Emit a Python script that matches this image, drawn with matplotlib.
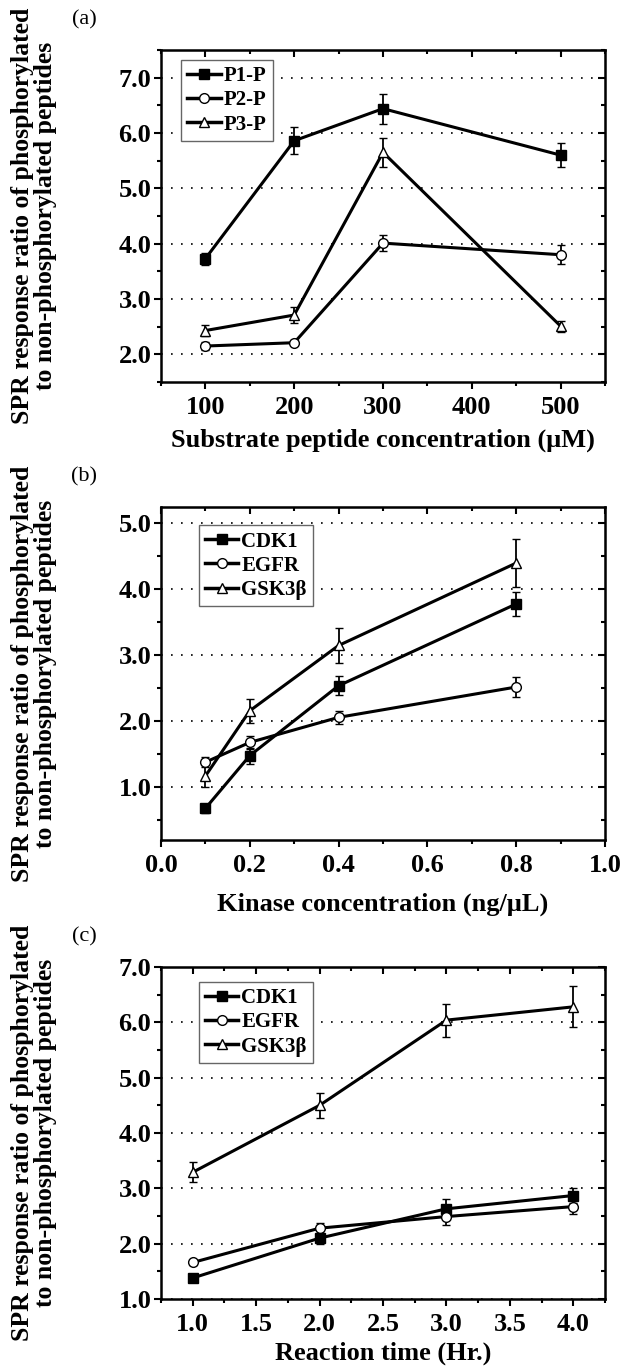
import numpy as np
import matplotlib
matplotlib.use("Agg")
from matplotlib import pyplot as plt
from matplotlib.lines import Line2D
from matplotlib.ticker import MultipleLocator, FormatStrFormatter

plt.rcParams['font.family'] = ['Liberation Serif', 'DejaVu Serif']
plt.rcParams['font.weight'] = 'bold'

# panel (a): substrate peptide concentration
conc_a = [100, 200, 300, 500]
p1 = [3.73, 5.86, 6.44, 5.60]
p1_err = [0.11, 0.24, 0.27, 0.22]
p2 = [2.15, 2.21, 4.01, 3.80]
p2_err = [0.07, 0.05, 0.14, 0.17]
p3 = [2.43, 2.71, 5.65, 2.51]
p3_err = [0.10, 0.15, 0.26, 0.10]
names_a = ['P1-P', 'P2-P', 'P3-P']

# panel (b): kinase concentration
conc_b = [0.1, 0.2, 0.4, 0.8]
cdk1_b = [0.68, 1.48, 2.54, 3.78]
cdk1_b_err = [0.07, 0.12, 0.14, 0.18]
egfr_b = [1.38, 1.68, 2.06, 2.52]
egfr_b_err = [0.08, 0.10, 0.10, 0.15]
gsk_b = [1.17, 2.16, 3.15, 4.40]
gsk_b_err = [0.17, 0.18, 0.27, 0.36]

# panel (c): reaction time
time_c = [1.0, 2.0, 3.0, 4.0]
cdk1_c = [1.38, 2.10, 2.63, 2.87]
cdk1_c_err = [0.07, 0.10, 0.18, 0.14]
egfr_c = [1.66, 2.28, 2.49, 2.67]
egfr_c_err = [0.05, 0.10, 0.15, 0.13]
gsk_c = [3.29, 4.50, 6.04, 6.28]
gsk_c_err = [0.18, 0.22, 0.30, 0.37]
names_k = ['CDK1', 'EGFR', 'GSK3β']

W, H = 624, 1366
fig = plt.figure(figsize=(W / 100, H / 100), dpi=100)

def px_axes(left, top, right, bottom):
    return fig.add_axes([left / W, 1 - bottom / H, (right - left) / W, (bottom - top) / H])

styles = [dict(marker='s', mfc='k', ms=6.5),
          dict(marker='o', mfc='white', ms=7),
          dict(marker='^', mfc='white', ms=7.5)]

def draw(ax, x, ys, errs):
    for y, e, st in zip(ys, errs, styles):
        ax.errorbar(x, y, yerr=e, color='k', lw=2.2, mec='k', mew=1,
                    capsize=3, elinewidth=1.3, capthick=1.3, zorder=3, **st)

def style(ax, xlim, ylim, xmaj, xmin, ymaj, ymin, xfmt, xlabel, pad, names, leg_anchor):
    ax.set_xlim(*xlim)
    ax.set_ylim(*ylim)
    ax.xaxis.set_major_locator(MultipleLocator(xmaj))
    ax.xaxis.set_minor_locator(MultipleLocator(xmin))
    ax.yaxis.set_major_locator(MultipleLocator(ymaj))
    ax.yaxis.set_minor_locator(MultipleLocator(ymin))
    ax.xaxis.set_major_formatter(FormatStrFormatter(xfmt))
    ax.yaxis.set_major_formatter(FormatStrFormatter('%.1f'))
    ax.tick_params(which='major', direction='out', length=5, width=1.5, labelsize=19, pad=2)
    ax.tick_params(axis='x', which='major', pad=5)
    ax.tick_params(which='minor', direction='out', length=3, width=1.5)
    for s in ax.spines.values():
        s.set_linewidth(1.8)
    for v in np.arange(np.ceil(ylim[0] / ymaj) * ymaj, ylim[1], ymaj):
        ax.axhline(v, color='k', lw=1.2, ls=(0, (1, 5)), zorder=1)
    top = ax.secondary_xaxis('top')
    top.xaxis.set_major_locator(MultipleLocator(xmaj))
    top.xaxis.set_minor_locator(MultipleLocator(xmin))
    top.tick_params(which='major', direction='in', length=5, width=1.5, labeltop=False)
    top.tick_params(which='minor', direction='in', length=3, width=1.5)
    right = ax.secondary_yaxis('right')
    right.yaxis.set_major_locator(MultipleLocator(ymaj))
    right.yaxis.set_minor_locator(MultipleLocator(ymin))
    right.tick_params(which='major', direction='in', length=5, width=1.5, labelright=False)
    right.tick_params(which='minor', direction='in', length=3, width=1.5)
    ax.set_xlabel(xlabel, fontsize=19, fontweight='bold', labelpad=pad)
    handles = [Line2D([], [], color='k', lw=2.5, mec='k', mew=1, **st) for st in styles]
    leg = ax.legend(handles, names, loc='upper left', bbox_to_anchor=leg_anchor, borderaxespad=0,
                    prop={'size': 15, 'weight': 'bold'}, handlelength=1.6,
                    handletextpad=0.15, labelspacing=0.2, borderpad=0.3,
                    fancybox=False, framealpha=1, edgecolor='0.4')
    leg.get_frame().set_linewidth(1.0)

ylab = 'SPR response ratio of phosphorylated\nto non-phosphorylated peptides'

ax_a = px_axes(161, 50, 605, 382)
draw(ax_a, conc_a, [p1, p2, p3], [p1_err, p2_err, p3_err])
style(ax_a, (50, 550), (1.5, 7.5), 100, 50, 1, 0.5, '%d',
      'Substrate peptide concentration (μM)', 7, names_a, (0.045, 0.97))

ax_b = px_axes(161, 507, 605, 840)
draw(ax_b, conc_b, [cdk1_b, egfr_b, gsk_b], [cdk1_b_err, egfr_b_err, gsk_b_err])
style(ax_b, (0.0, 1.0), (0.2, 5.25), 0.2, 0.1, 1, 0.5, '%.1f',
      'Kinase concentration (ng/μL)', 11, names_k, (0.085, 0.945))

ax_c = px_axes(161, 967, 605, 1299)
draw(ax_c, time_c, [cdk1_c, egfr_c, gsk_c], [cdk1_c_err, egfr_c_err, gsk_c_err])
style(ax_c, (0.75, 4.25), (1.0, 7.0), 0.5, 0.25, 1, 0.5, '%.1f',
      'Reaction time (Hr.)', 4, names_k, (0.085, 0.955))

for ax, lab, top_px in [(ax_a, '(a)', 50), (ax_b, '(b)', 507), (ax_c, '(c)', 967)]:
    pos = ax.get_position()
    fig.text(34 / W, pos.y0 + pos.height / 2, ylab, rotation=90, ha='center', va='center',
             multialignment='center', fontsize=18.5, fontweight='bold', linespacing=1.0)
    fig.text(84 / W, 1 - (top_px - 30) / H, lab, ha='center', va='center',
             fontsize=16, fontweight='normal')

fig.savefig('out.png', dpi=100)
